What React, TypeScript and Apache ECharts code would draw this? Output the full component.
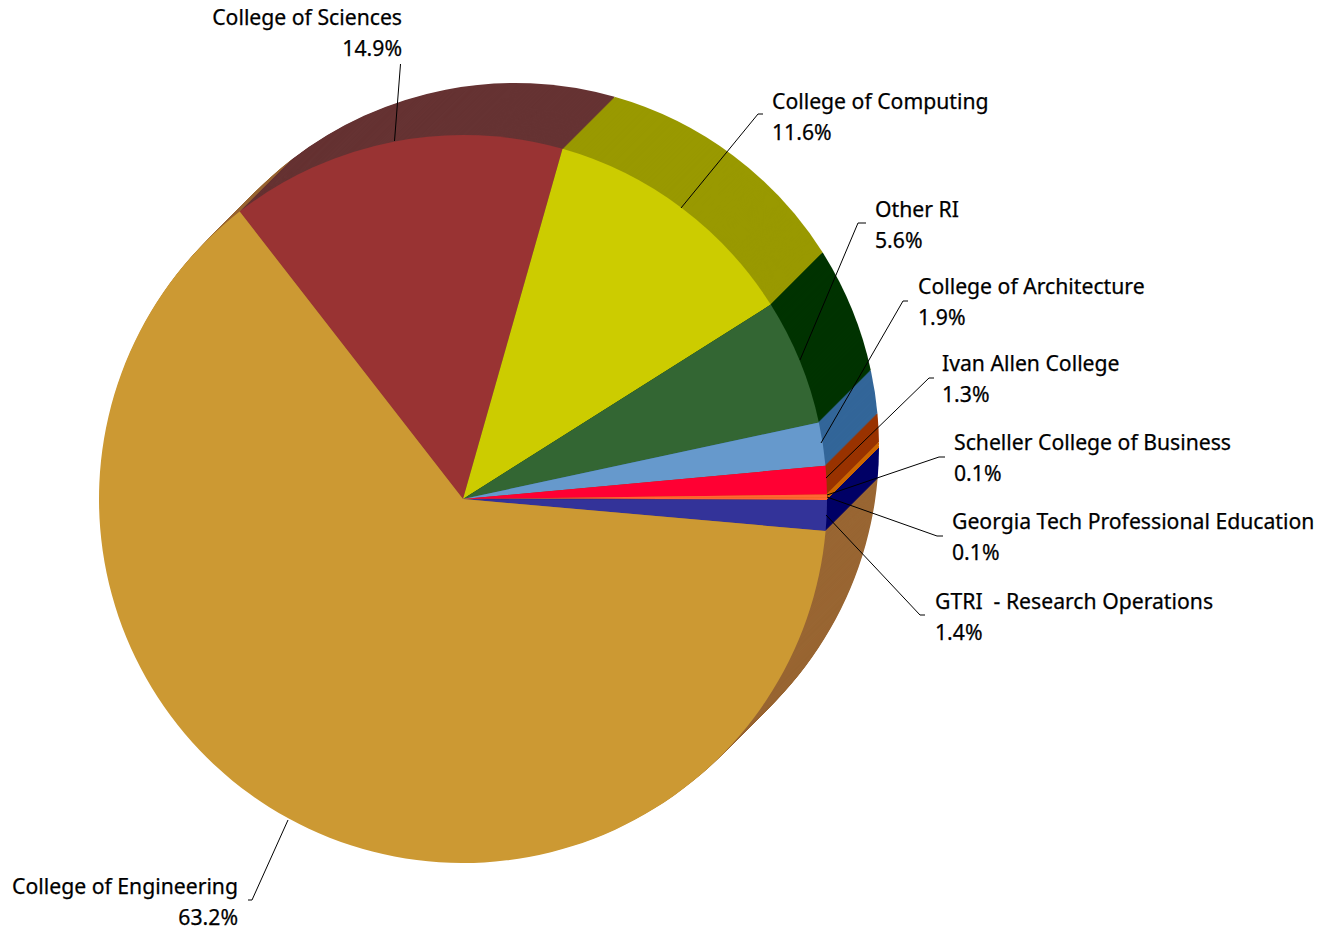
import React, { useEffect, useRef } from "react";
import * as echarts from "echarts";

const categories = [
  "College of Sciences",
  "College of Computing",
  "Other RI",
  "College of Architecture",
  "Ivan Allen College",
  "Scheller College of Business",
  "Georgia Tech Professional Education",
  "GTRI  - Research Operations",
  "College of Engineering",
];
const percents = [14.94, 11.64, 5.6, 1.92, 1.26, 0.12, 0.12, 1.36, 63.16];
const frontColors = ["#993333", "#CCCC00", "#336633", "#6699CC", "#FF0033", "#FF6633", "#FF6633", "#333399", "#CC9933"];
const sideColors = ["#663333", "#999900", "#003300", "#336699", "#993300", "#CC6600", "#CC6600", "#000066", "#996633"];

// label anchor [x, top, align] and leader-line polyline per slice
const labelSpots: [number, number, string][] = [
  [402, 1, "right"],
  [772, 85, "left"],
  [875, 193, "left"],
  [918, 270, "left"],
  [942, 347, "left"],
  [954, 426, "left"],
  [952, 505, "left"],
  [935, 585, "left"],
  [238, 870, "right"],
];
const leaderLines: number[][][] = [
  [[394.5, 141], [400.5, 64]],
  [[681, 208], [758, 114], [763, 114]],
  [[800, 360], [858, 223], [866, 223]],
  [[821, 443], [903, 301], [908, 301]],
  [[826, 478], [929, 378], [934, 378]],
  [[827, 495], [939, 457], [945, 457]],
  [[827, 497], [937, 536], [943, 536]],
  [[826, 515], [920, 615], [925, 615]],
  [[288, 820], [252, 900], [248, 900]],
];

const CX = 463;
const CY = 499;
const R = 364;
const DEPTH = 52;
const START = 127.85;

export default function App() {
  const ref = useRef<HTMLDivElement>(null);
  useEffect(() => {
    const chart = echarts.init(ref.current!, null, { renderer: "svg" });
    const data = categories.map((name, i) => ({ name, value: percents[i] }));
    const series: any[] = [];
    for (let d = DEPTH; d >= 1; d--) {
      series.push({
        type: "pie",
        silent: true,
        center: [CX + d, CY - d],
        radius: [0, R],
        startAngle: START,
        label: { show: false },
        labelLine: { show: false },
        emphasis: { disabled: true },
        data: data.map((p, i) => ({ ...p, itemStyle: { color: sideColors[i] } })),
      });
    }
    series.push({
      type: "pie",
      silent: true,
      center: [CX, CY],
      radius: [0, R],
      startAngle: START,
      avoidLabelOverlap: false,
      minShowLabelAngle: 0,
      emphasis: { disabled: true },
      label: {
        show: true,
        position: "outside",
        formatter: (p: any) => `${p.name}\n${p.value.toFixed(1)}%`,
        fontFamily: "Noto Sans",
        fontSize: 21.2,
        lineHeight: 31,
        color: "#000",
        textBorderColor: "#000",
        textBorderWidth: 0.25,
      },
      labelLine: { show: false },
      labelLayout: (p: any) => {
        const [x, y, align] = labelSpots[p.dataIndex];
        return { x, y, align, verticalAlign: "top" };
      },
      data: data.map((p, i) => ({ ...p, itemStyle: { color: frontColors[i] } })),
    });
    chart.setOption({
      animation: false,
      backgroundColor: "#fff",
      series,
      graphic: leaderLines.map((points) => ({
        type: "polyline",
        silent: true,
        z: 100,
        shape: { points },
        style: { stroke: "#000", lineWidth: 1, fill: "none" },
      })),
    });
    return () => chart.dispose();
  }, []);
  return <div ref={ref} style={{ position: "fixed", left: 0, top: 0, width: 1331, height: 932 }} />;
}
